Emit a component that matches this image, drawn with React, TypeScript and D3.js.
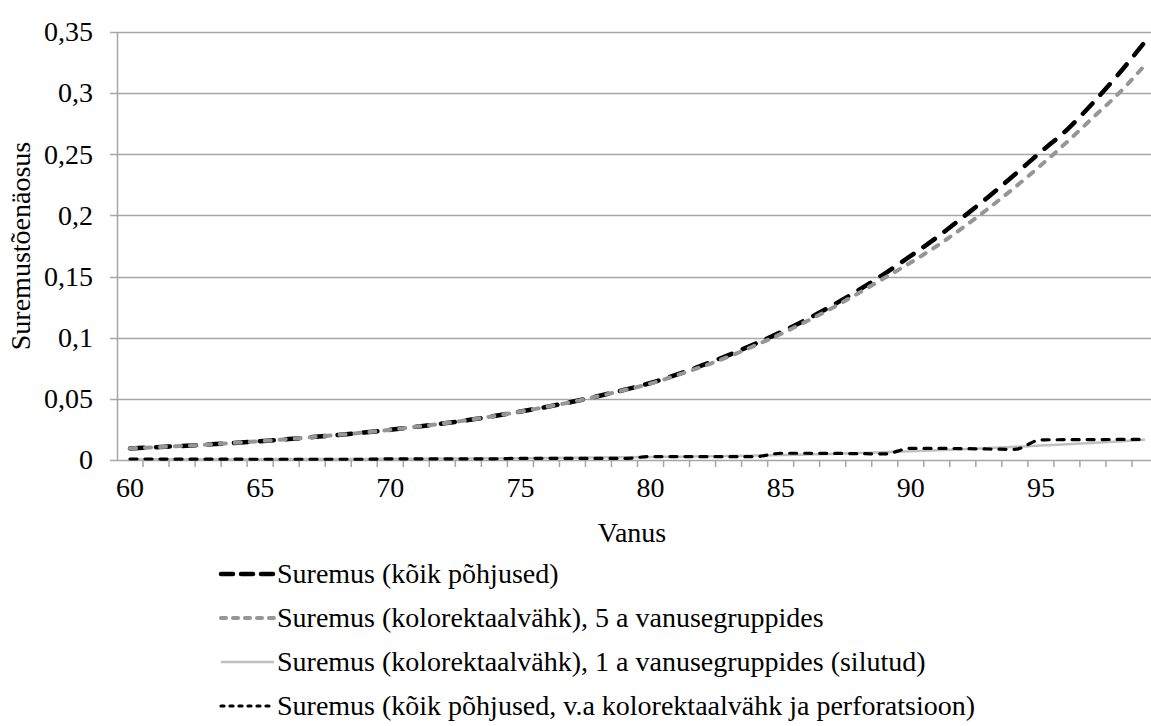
import { useRef, useEffect } from "react";
import * as d3 from "d3";

// ages 60..99
const ages: number[] = d3.range(60, 100);

const allCauses: number[] = [
  0.0095, 0.0105, 0.0115, 0.0127, 0.014, 0.0154, 0.017, 0.0187, 0.0205, 0.0225,
  0.0247, 0.0272, 0.0298, 0.0327, 0.036, 0.0396, 0.0434, 0.0476, 0.0523, 0.0574,
  0.063, 0.0698, 0.0775, 0.0858, 0.0948, 0.1045, 0.115, 0.1265, 0.139, 0.1525,
  0.167, 0.182, 0.1985, 0.2155, 0.2335, 0.252, 0.27, 0.292, 0.316, 0.342,
];

const crc5: number[] = [
  0.0095, 0.0105, 0.0115, 0.0127, 0.014, 0.0154, 0.017, 0.0187, 0.0205, 0.0225,
  0.0247, 0.0272, 0.0298, 0.0327, 0.036, 0.0396, 0.0434, 0.0476, 0.0522, 0.0572,
  0.0625, 0.0692, 0.0765, 0.0845, 0.0935, 0.103, 0.1135, 0.1245, 0.1365, 0.149,
  0.1615, 0.175, 0.19, 0.206, 0.223, 0.241, 0.26, 0.28, 0.3, 0.323,
];

const crc1: number[] = [
  0.0006, 0.0006, 0.0006, 0.0007, 0.0007, 0.0007, 0.0008, 0.0008, 0.0009, 0.0009,
  0.001, 0.0011, 0.0012, 0.0013, 0.0014, 0.0015, 0.0017, 0.0019, 0.0021, 0.0023,
  0.0025, 0.0027, 0.003, 0.0033, 0.0036, 0.004, 0.0045, 0.005, 0.0057, 0.0064,
  0.0071, 0.0079, 0.0088, 0.0098, 0.0108, 0.0118, 0.0129, 0.014, 0.0152, 0.0166,
];

const otherCauses: number[] = [
  0.0008, 0.0008, 0.0007, 0.0007, 0.0007, 0.0006, 0.0006, 0.0006, 0.0006, 0.0006,
  0.001, 0.001, 0.001, 0.001, 0.001, 0.0014, 0.0014, 0.0013, 0.0013, 0.0013,
  0.0028, 0.0028, 0.0027, 0.0027, 0.0027, 0.0055, 0.0055, 0.0054, 0.0052, 0.005,
  0.0095, 0.0095, 0.0093, 0.009, 0.0087, 0.0165, 0.0166, 0.0167, 0.0168, 0.0168,
];

const yTicks: number[] = [0, 0.05, 0.1, 0.15, 0.2, 0.25, 0.3, 0.35];
const xLabels: number[] = [60, 65, 70, 75, 80, 85, 90, 95];

const seriesNames: string[] = [
  "Suremus (kõik põhjused)",
  "Suremus (kolorektaalvähk), 5 a vanusegruppides",
  "Suremus (kolorektaalvähk), 1 a vanusegruppides (silutud)",
  "Suremus (kõik põhjused, v.a kolorektaalvähk ja perforatsioon)",
];

export default function App() {
  const svgRef = useRef<SVGSVGElement | null>(null);

  useEffect(() => {
    const svg = d3.select(svgRef.current);
    svg.selectAll("*").remove();

    const width = 1151;
    const height = 726;
    const left = 117;
    const right = 1158; // plot runs a bit past the picture edge
    const top = 32;
    const bottom = 460;
    const fs = 28;
    const axisColor = "#a6a6a6";

    svg
      .attr("width", width)
      .attr("height", height)
      .style("font-family", '"Liberation Serif", "DejaVu Serif", serif');

    const x = d3
      .scaleBand<number>()
      .domain(ages)
      .range([left, right])
      .paddingInner(0)
      .paddingOuter(0);
    const xc = (a: number) => (x(a) as number) + x.bandwidth() / 2;

    const y = d3.scaleLinear().domain([0, 0.35]).range([bottom, top]);

    // gridlines
    svg
      .append("g")
      .selectAll("line")
      .data(yTicks.filter((t) => t > 0))
      .join("line")
      .attr("x1", left)
      .attr("x2", width)
      .attr("y1", (d) => Math.round(y(d)) + 0.5)
      .attr("y2", (d) => Math.round(y(d)) + 0.5)
      .attr("stroke", axisColor)
      .attr("stroke-width", 1.5);

    // y axis
    const yAxis = svg.append("g");
    yAxis
      .append("line")
      .attr("x1", left + 0.5)
      .attr("x2", left + 0.5)
      .attr("y1", top)
      .attr("y2", bottom)
      .attr("stroke", axisColor)
      .attr("stroke-width", 1.5);
    yAxis
      .selectAll("line.tick")
      .data(yTicks)
      .join("line")
      .attr("class", "tick")
      .attr("x1", left - 7)
      .attr("x2", left)
      .attr("y1", (d) => Math.round(y(d)) + 0.5)
      .attr("y2", (d) => Math.round(y(d)) + 0.5)
      .attr("stroke", axisColor)
      .attr("stroke-width", 1.5);
    yAxis
      .selectAll("text")
      .data(yTicks)
      .join("text")
      .attr("x", left - 24)
      .attr("y", (d) => y(d))
      .attr("dy", "0.33em")
      .attr("text-anchor", "end")
      .attr("font-size", fs)
      .attr("fill", "#000")
      .text((d) => String(d).replace(".", ","));

    // x axis
    const xAxis = svg.append("g");
    xAxis
      .append("line")
      .attr("x1", left)
      .attr("x2", width)
      .attr("y1", bottom + 0.5)
      .attr("y2", bottom + 0.5)
      .attr("stroke", axisColor)
      .attr("stroke-width", 1.5);
    xAxis
      .selectAll("line.tick")
      .data(ages)
      .join("line")
      .attr("class", "tick")
      .attr("x1", (d) => (x(d) as number) + x.bandwidth())
      .attr("x2", (d) => (x(d) as number) + x.bandwidth())
      .attr("y1", bottom)
      .attr("y2", bottom + 7)
      .attr("stroke", axisColor)
      .attr("stroke-width", 1.5);
    xAxis
      .selectAll("text")
      .data(xLabels)
      .join("text")
      .attr("x", (d) => xc(d))
      .attr("y", bottom + 37)
      .attr("text-anchor", "middle")
      .attr("font-size", fs)
      .attr("fill", "#000")
      .text((d) => d);

    // axis titles
    svg
      .append("text")
      .attr("x", 632)
      .attr("y", 542)
      .attr("text-anchor", "middle")
      .attr("font-size", fs)
      .text("Vanus");
    svg
      .append("text")
      .attr("transform", `translate(30,${(top + bottom) / 2}) rotate(-90)`)
      .attr("text-anchor", "middle")
      .attr("font-size", fs)
      .text("Suremustõenäosus");

    // series styles, in drawing order
    const styles = [
      { values: allCauses, color: "#000", width: 4.5, dash: "14 12" },
      { values: crc5, color: "#969696", width: 4, dash: "6 9" },
      { values: crc1, color: "#c0c0c0", width: 2.5, dash: null },
      { values: otherCauses, color: "#000", width: 3.2, dash: "7 8" },
    ];

    const line = d3
      .line<number>()
      .x((d, i) => xc(ages[i]))
      .y((d) => y(d))
      .curve(d3.curveMonotoneX);

    const lines = svg.append("g");
    styles.forEach((s) => {
      lines
        .append("path")
        .attr("d", line(s.values))
        .attr("fill", "none")
        .attr("stroke", s.color)
        .attr("stroke-width", s.width)
        .attr("stroke-linecap", s.dash ? "round" : "butt")
        .attr("stroke-dasharray", s.dash ?? null);
    });

    // legend
    const legendRows = [574, 618, 662, 706];
    const legendDash = ["12 8", "5 7", null, "3 6"];
    const legend = svg.append("g");
    styles.forEach((s, i) => {
      const ly = legendRows[i];
      legend
        .append("line")
        .attr("x1", 221)
        .attr("x2", 274)
        .attr("y1", ly)
        .attr("y2", ly)
        .attr("stroke", s.color)
        .attr("stroke-width", s.width)
        .attr("stroke-linecap", s.dash ? "round" : "butt")
        .attr("stroke-dasharray", legendDash[i]);
      legend
        .append("text")
        .attr("x", 277)
        .attr("y", ly)
        .attr("dy", "0.33em")
        .attr("font-size", fs)
        .attr("fill", "#000")
        .text(seriesNames[i]);
    });
  }, []);

  return (
    <div style={{ position: "absolute", left: 0, top: 0, background: "#fff" }}>
      <svg ref={svgRef} style={{ display: "block" }} />
    </div>
  );
}
